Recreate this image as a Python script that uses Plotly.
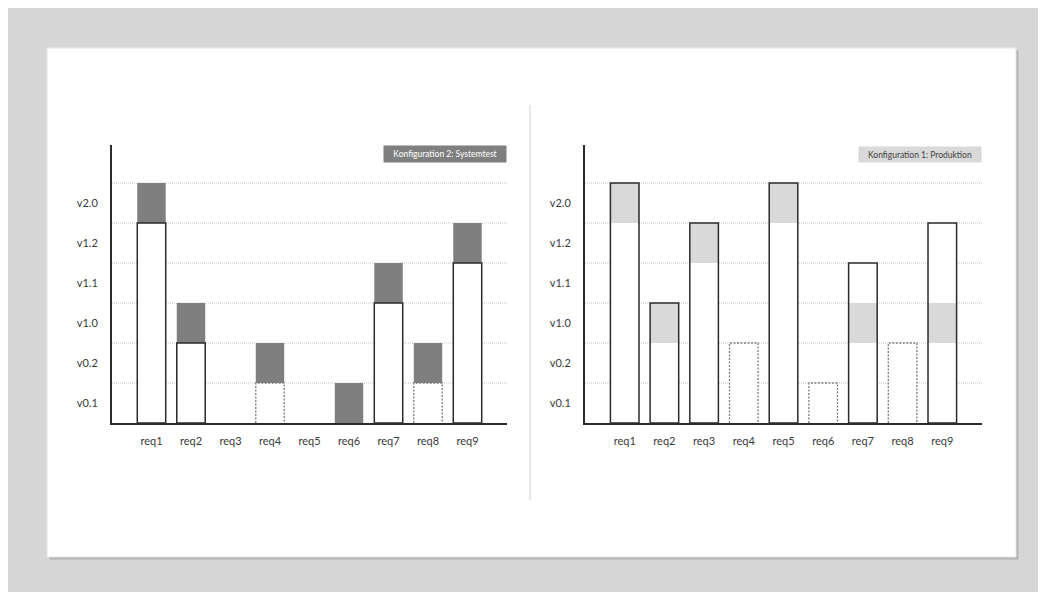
import plotly.graph_objects as go

W, H = 1046, 592
PAGE_MARGIN = 8   # body margin of the html page

REQS = ["req1", "req2", "req3", "req4", "req5", "req6", "req7", "req8", "req9"]
VERSIONS = ["v0.1", "v0.2", "v1.0", "v1.1", "v1.2", "v2.0"]

# Konfiguration 2: Systemtest (levels counted in versions, 0 = none)
SYS_DONE = [5, 2, 0, 1, 0, 0, 3, 1, 4]      # white part
SYS_DASHED = [False, False, False, True, False, False, False, True, False]
SYS_TEST = [1, 1, 0, 1, 0, 1, 1, 1, 1]      # dark block on top

# Konfiguration 1: Produktion
PROD_TOP = [6, 3, 5, 2, 6, 1, 4, 2, 5]
PROD_DASHED = [False, False, False, True, False, True, False, True, False]
PROD_MARK = [5, 2, 4, None, 5, None, 2, None, 2]   # level of light block

BAR_W = 0.72
DARK = "#7f7f7f"
LIGHT = "#d9d9d9"
EDGE = "#2b2b2b"
FONT = "Lato"


def px_x(p):
    return (p - PAGE_MARGIN) / W


def px_y(p):
    return 1 - (p - PAGE_MARGIN) / H


def dashed_path(tops, dashed):
    xs, ys = [], []
    for i, (t, d) in enumerate(zip(tops, dashed)):
        if d and t:
            xs += [i - BAR_W / 2, i - BAR_W / 2, i + BAR_W / 2, i + BAR_W / 2, None]
            ys += [0, t, t, 0, None]
    return xs, ys


def nz(vals):
    return [v if v else None for v in vals]


def add_chart(fig, xa, ya, tops, dashed, fill_base, fill_h, fill_color, outline_tops):
    idx = list(range(len(REQS)))
    # white body
    fig.add_trace(go.Bar(x=idx, y=nz(tops), base=0, width=BAR_W, marker_color="white",
                         marker_line_width=0, xaxis=xa, yaxis=ya, hoverinfo="skip"))
    # coloured block
    fig.add_trace(go.Bar(x=idx, y=nz(fill_h), base=fill_base, width=BAR_W, marker_color=fill_color,
                         marker_line_width=0, xaxis=xa, yaxis=ya))
    # solid outlines
    solid = [t if (t and not d) else None for t, d in zip(outline_tops, dashed)]
    fig.add_trace(go.Bar(x=idx, y=solid, base=0, width=BAR_W, marker_color="rgba(0,0,0,0)",
                         marker_line=dict(color=EDGE, width=1.5), xaxis=xa, yaxis=ya,
                         hoverinfo="skip"))
    # dotted outlines
    dx, dy = dashed_path(outline_tops, dashed)
    fig.add_trace(go.Scatter(x=dx, y=dy, mode="lines",
                             line=dict(color="#7a7a7a", width=1.3, dash="2px,1.5px"),
                             xaxis=xa, yaxis=ya, hoverinfo="skip"))


fig = go.Figure()

# left: Systemtest
add_chart(fig, "x", "y", SYS_DONE, SYS_DASHED, SYS_DONE, SYS_TEST, DARK, SYS_DONE)

# right: Produktion
prod_base = [m if m is not None else 0 for m in PROD_MARK]
prod_h = [1 if m is not None else 0 for m in PROD_MARK]
add_chart(fig, "x2", "y2", PROD_TOP, PROD_DASHED, prod_base, prod_h, LIGHT, PROD_TOP)

xdom1 = [px_x(112), px_x(507)]
xdom2 = [px_x(585), px_x(982)]
ydom = [px_y(423), px_y(145)]

xcommon = dict(range=[-1, len(REQS)], tickvals=list(range(len(REQS))), ticktext=REQS,
               showline=True, linecolor=EDGE, linewidth=2, showgrid=False, zeroline=False,
               ticks="", tickfont=dict(family=FONT, size=11, color="#3a3a3a"),
               ticklabelstandoff=7, fixedrange=True)
ycommon = dict(range=[0, len(VERSIONS) + 0.95], tickvals=[i + 0.5 for i in range(len(VERSIONS))],
               ticktext=VERSIONS, showline=True, linecolor=EDGE, linewidth=2, showgrid=False,
               zeroline=False, ticks="", tickfont=dict(family=FONT, size=11, color="#3a3a3a"),
               ticklabelstandoff=10, fixedrange=True)

fig.update_layout(
    width=W, height=H,
    margin=dict(l=0, r=0, t=0, b=0),
    paper_bgcolor="#d6d6d6",
    plot_bgcolor="rgba(0,0,0,0)",
    barmode="overlay",
    showlegend=False,
    xaxis=dict(domain=xdom1, anchor="y", **xcommon),
    yaxis=dict(domain=ydom, anchor="x", **ycommon),
    xaxis2=dict(domain=xdom2, anchor="y2", **xcommon),
    yaxis2=dict(domain=ydom, anchor="x2", **ycommon),
)

shapes = []
# slide with a soft shadow
for off, col in [(3, "#c4c4c4"), (2, "#b5b5b5")]:
    shapes.append(dict(type="rect", xref="paper", yref="paper", layer="below",
                       x0=px_x(47 + off), x1=px_x(1016 + off), y0=px_y(557 + off), y1=px_y(48 + off),
                       line_width=0, fillcolor=col))
shapes.append(dict(type="rect", xref="paper", yref="paper", layer="below",
                   x0=px_x(47), x1=px_x(1016), y0=px_y(557), y1=px_y(48),
                   line=dict(color="#e6e6e6", width=1), fillcolor="white"))

# separator between the two charts
shapes.append(dict(type="line", xref="paper", yref="paper", x0=px_x(530), x1=px_x(530),
                   y0=px_y(500), y1=px_y(105), line=dict(color="#d0d0d0", width=1)))

# dotted level lines
for xa, ya in [("x", "y"), ("x2", "y2")]:
    for lvl in range(1, len(VERSIONS) + 1):
        shapes.append(dict(type="line", xref=f"{xa} domain", yref=ya, x0=0, x1=1, y0=lvl, y1=lvl,
                           layer="below", line=dict(color="#c4c4c4", width=1, dash="1px,1px")))

fig.update_layout(shapes=shapes)

# config labels
fig.add_annotation(text="Konfiguration 2: Systemtest", xref="paper", yref="paper",
                   x=xdom1[1], y=px_y(145), xanchor="right", yanchor="top", showarrow=False,
                   bgcolor=DARK, font=dict(family=FONT, size=8.5, color="white"),
                   width=118, height=12, borderpad=2)
fig.add_annotation(text="Konfiguration 1: Produktion", xref="paper", yref="paper",
                   x=xdom2[1], y=px_y(146), xanchor="right", yanchor="top", showarrow=False,
                   bgcolor=LIGHT, font=dict(family=FONT, size=8.5, color="#404040"),
                   width=118, height=11, borderpad=2)

fig.write_html("out.html")
